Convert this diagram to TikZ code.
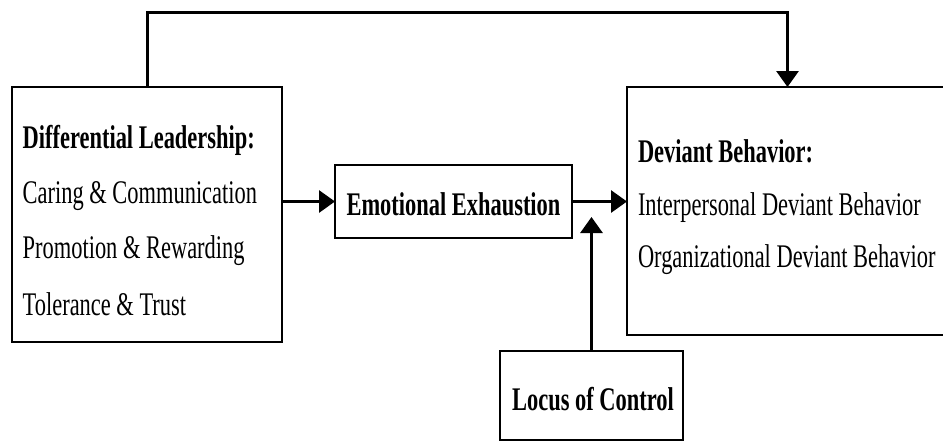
\documentclass[tikz,border=0pt]{standalone}
\usepackage{fontspec}
\setmainfont{Liberation Serif}[FakeStretch=0.68]
\usetikzlibrary{arrows.meta}
\tikzset{
  box/.style={draw=black, line width=2.6pt, inner sep=0pt, outer sep=0pt, fill=none},
  txt/.style={inner sep=0pt, outer sep=0pt, font=\fontsize{33}{38}\selectfont},
  btxt/.style={txt, font=\fontsize{33}{38}\selectfont\bfseries},
  arr/.style={line width=3pt, -{Triangle[length=16pt,width=22pt]}},
}
\begin{document}
\begin{tikzpicture}[x=1pt,y=-1pt]
\useasboundingbox (0,0) rectangle (943,440);
% boxes
\node[box, minimum width=270pt, minimum height=255pt, anchor=north west] (lead) at (12,87) {};
\node[box, minimum width=237pt, minimum height=73pt, anchor=north west] (mid) at (335,165) {};
\node[box, minimum width=321pt, minimum height=248pt, anchor=north west] (dev) at (627,87) {};
\node[box, minimum width=183pt, minimum height=89pt, anchor=north west] (loc) at (500,351) {};
% texts
\node[btxt, anchor=base west] (t1) at (22.7,148) {Differential Leadership:};
\node[txt, anchor=base west] (t2) at (22.7,203) {Caring \& Communication};
\node[txt, anchor=base west] (t3) at (22.7,258) {Promotion \& Rewarding};
\node[txt, anchor=base west] (t4) at (22.7,315) {Tolerance \& Trust};
\node[btxt, anchor=base] (t5) at (453.5,215) {Emotional Exhaustion};
\node[btxt, anchor=base west] (t6) at (638,162) {Deviant Behavior:};
\node[txt, anchor=base west] (t7) at (638,215) {Interpersonal Deviant Behavior};
\node[txt, anchor=base west] (t8) at (638,267) {Organizational Deviant Behavior};
\node[btxt, anchor=base] (t9) at (593,410) {Locus of Control};
% connectors
\coordinate (tip) at (591.5,217);
\draw[arr] (lead.east |- mid.west) -- (mid.west);
\draw[arr] (mid.east) -- (dev.west |- mid.east);
\draw[arr] (lead.north) -- (lead.north |- 0,12) -| (dev.north);
\draw[arr] (loc.north) -- (tip);
\end{tikzpicture}
\end{document}
